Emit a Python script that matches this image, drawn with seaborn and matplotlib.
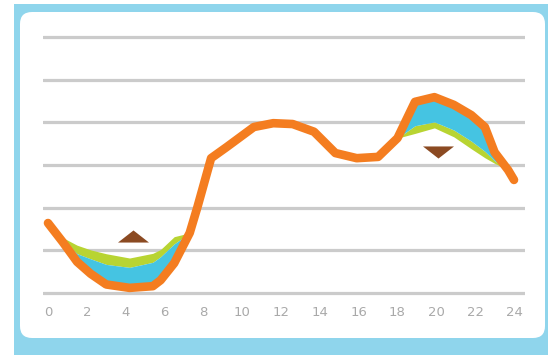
import matplotlib
matplotlib.use("Agg")
import matplotlib.pyplot as plt
import seaborn as sns
import numpy as np
from matplotlib.patches import FancyBboxPatch, Rectangle
from matplotlib.path import Path

# Hour of day for each sampled point
hours = [0, 0.75, 1.5, 2.2, 3.0, 4.2, 5.4, 5.8, 6.5, 7.3, 7.7, 8.4, 9.2, 10.6,
         11.6, 12.6, 13.7, 14.8, 15.9, 17.0, 18.0, 18.9, 19.9, 20.9, 21.8,
         22.5, 23.0, 23.7, 24.0]

# Load profiles
orange_load = [1.64, 1.20, 0.73, 0.45, 0.20, 0.12, 0.16, 0.30, 0.70, 1.41, 2.02,
               3.16, 3.42, 3.89, 3.98, 3.96, 3.78, 3.28, 3.16, 3.19, 3.63, 4.48,
               4.59, 4.41, 4.17, 3.89, 3.30, 2.88, 2.65]
blue_load = [1.64, 1.25, 0.92, 0.80, 0.67, 0.60, 0.72, 0.85, 1.15, 1.41, 2.02,
             3.16, 3.42, 3.89, 3.98, 3.96, 3.78, 3.28, 3.16, 3.19, 3.63, 3.92,
             4.01, 3.82, 3.56, 3.32, 3.10, 2.88, 2.65]
green_load = [1.64, 1.30, 1.12, 1.01, 0.92, 0.82, 0.93, 1.02, 1.32, 1.41, 2.02,
              3.16, 3.42, 3.89, 3.98, 3.96, 3.78, 3.28, 3.16, 3.19, 3.63, 3.74,
              3.87, 3.66, 3.38, 3.17, 3.04, 2.88, 2.65]

# Shift markers: up arrow in the night valley, down arrow at the evening peak
marker_hours = [4.4, 20.1]
marker_levels = [1.34, 3.30]

x_ticks = list(range(0, 25, 2))
grid_levels = list(range(0, 7))

ORANGE = "#f47d20"
BLUE = "#45c4e2"
GREEN = "#b8d432"
BROWN = "#8b4a22"
FRAME = "#8fd5ec"
GRID = "#cbcbcb"
TEXT = "#a9a9a9"

sns.set_style("white")
plt.rcParams["font.family"] = ["DejaVu Sans"]

W, H, DPI = 548, 355, 100
fig = plt.figure(figsize=(W / DPI, H / DPI), dpi=DPI)
fig.patch.set_facecolor("white")

# Light-blue frame and white rounded card, laid out in inches
inch = fig.dpi_scale_trans
fig.patches.append(Rectangle((14 / DPI, 0), (W - 14) / DPI, (H - 4) / DPI,
                             transform=inch, facecolor=FRAME, edgecolor="none",
                             zorder=-10))
fig.patches.append(FancyBboxPatch((20 / DPI, (H - 338) / DPI), 525 / DPI, 326 / DPI,
                                  boxstyle="round,pad=0,rounding_size=0.12",
                                  transform=inch, facecolor="white",
                                  edgecolor="none", zorder=-9))

# Plot area: x from 43px to 525px, y from 30px to 300px (from top)
px_per_unit_y = (293 - 37) / 6
px_per_hour = (514 - 48) / 24
ax = fig.add_axes([43 / W, (H - 300) / H, 482 / W, 270 / H])
ax.set_facecolor("none")

ax.fill_between(hours, green_load, blue_load, color=GREEN, linewidth=0, zorder=2)
ax.fill_between(hours, blue_load, orange_load, color=BLUE, linewidth=0, zorder=3)
sns.lineplot(x=hours, y=orange_load, ax=ax, color=ORANGE, linewidth=6.2,
             estimator=None, sort=False, zorder=4,
             solid_capstyle="round", solid_joinstyle="round")

# Flat triangle markers
tri_up = Path([(-1, -0.39), (1, -0.39), (0, 0.39), (-1, -0.39)],
              [Path.MOVETO, Path.LINETO, Path.LINETO, Path.CLOSEPOLY])
tri_down = Path([(-1, 0.39), (1, 0.39), (0, -0.39), (-1, 0.39)],
                [Path.MOVETO, Path.LINETO, Path.LINETO, Path.CLOSEPOLY])
size = (31 * 72 / DPI) ** 2
ax.scatter(marker_hours[:1], marker_levels[:1], marker=tri_up, s=size,
           color=BROWN, linewidths=0, zorder=5)
ax.scatter(marker_hours[1:], marker_levels[1:], marker=tri_down, s=size,
           color=BROWN, linewidths=0, zorder=5)

ax.set_xlim(-5 / px_per_hour, 24 + 11 / px_per_hour)
ax.set_ylim(-7 / px_per_unit_y, 6 + 7 / px_per_unit_y)

ax.set_yticks(grid_levels)
ax.set_yticklabels([])
ax.set_xticks(x_ticks)
ax.set_xticklabels([str(t) for t in x_ticks])
ax.tick_params(axis="both", length=0)
ax.tick_params(axis="x", pad=4.5, labelsize=9.5, labelcolor=TEXT)
ax.grid(axis="y", color=GRID, linewidth=2.3, zorder=0)
ax.grid(axis="x", visible=False)
ax.set_axisbelow(True)
for s in ax.spines.values():
    s.set_visible(False)

fig.savefig("out.png", dpi=DPI)
